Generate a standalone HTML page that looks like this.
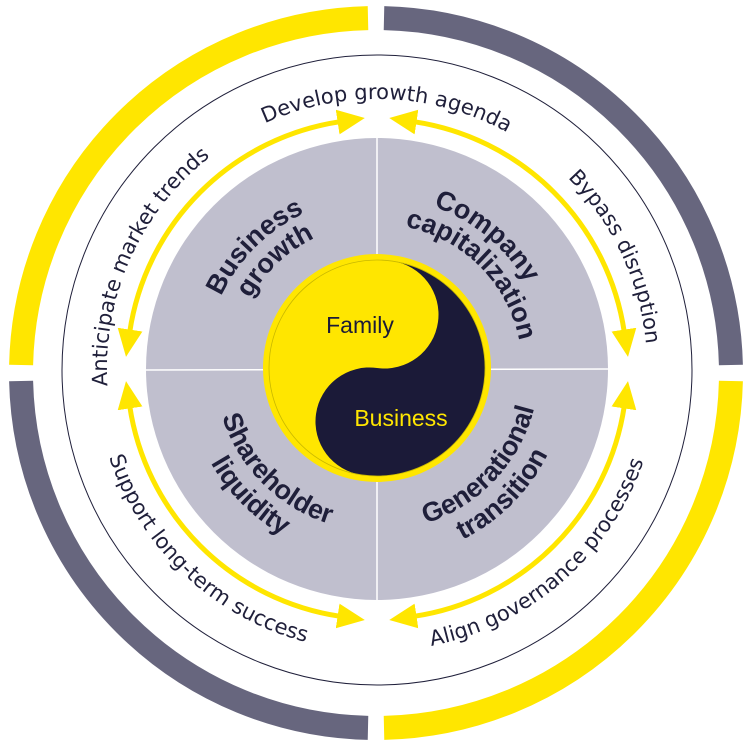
<!DOCTYPE html>
<html><head><meta charset="utf-8"><style>
html,body{margin:0;padding:0;background:#fff;width:750px;height:750px;overflow:hidden}
svg{display:block}
.o{font-family:"DejaVu Sans","Liberation Sans",sans-serif;font-size:21px;fill:#1f1f3a}
.q{font-family:"Liberation Sans",sans-serif;font-weight:bold;font-size:27px;fill:#1f1f3a}
</style></head><body>
<svg width="750" height="750" viewBox="0 0 750 750" xmlns="http://www.w3.org/2000/svg">
<defs>
<marker id="ah" markerUnits="userSpaceOnUse" markerWidth="30" markerHeight="30" refX="2" refY="0" viewBox="0 -12 24 24" orient="auto-start-reverse">
<path d="M0,-10 L22,0 L0,10 z" fill="#ffe600"/>
</marker>
<path id="cwO" d="M377,639 A270,270 0 1 1 377,99 A270,270 0 1 1 377,639"/>
<path id="ccwO" d="M659,369 A282,282 0 1 0 95,369 A282,282 0 1 0 659,369"/>
<path id="cw1" d="M377,541 A172,172 0 1 1 377,197 A172,172 0 1 1 377,541"/>
<path id="cw2" d="M377,514 A145,145 0 1 1 377,224 A145,145 0 1 1 377,514"/>
<path id="ccw1" d="M539,369 A162,162 0 1 0 215,369 A162,162 0 1 0 539,369"/>
<path id="ccw2" d="M568,369 A191,191 0 1 0 186,369 A191,191 0 1 0 568,369"/>
</defs>
<g fill="none" stroke-width="24">
<path d="M21.1,365 A355,355 0 0 1 368,18.1" stroke="#ffe600"/>
<path d="M384,18.1 A355,355 0 0 1 730.9,365" stroke="#67667e"/>
<path d="M730.9,381 A355,355 0 0 1 384,727.9" stroke="#ffe600"/>
<path d="M368,727.9 A355,355 0 0 1 21.1,381" stroke="#67667e"/>
</g>
<circle cx="377" cy="370" r="315" fill="none" stroke="#1f1f3a" stroke-width="1"/>
<circle cx="377" cy="369" r="231" fill="#c0bfce"/>
<line x1="377" y1="136" x2="377" y2="602" stroke="#fff" stroke-width="1.5"/>
<line x1="144" y1="370" x2="610" y2="369" stroke="#fff" stroke-width="1.5"/>
<g fill="none" stroke="#ffe600" stroke-width="5" marker-start="url(#ah)" marker-end="url(#ah)">
<path d="M129.7,332.1 A250,250 0 0 1 340.1,121.7"/>
<path d="M414,121.7 A250,250 0 0 1 624.3,332.1"/>
<path d="M624.3,405.9 A250,250 0 0 1 414,616.3"/>
<path d="M340.1,616.3 A250,250 0 0 1 129.7,405.9"/>
</g>
<circle cx="377" cy="368" r="114" fill="#ffe600"/>
<g transform="translate(377,368) rotate(8)">
<path d="M0,-108 A108,108 0 0 1 0,108 A54,54 0 0 1 0,0 A54,54 0 0 0 0,-108 z" fill="#1b1a38"/>
<circle r="108" fill="none" stroke="#c9b800" stroke-width="0.8"/>
</g>
<text x="360" y="333" font-family="Liberation Sans,sans-serif" font-size="23" fill="#1b1a38" text-anchor="middle">Family</text>
<text x="401" y="426" font-family="Liberation Sans,sans-serif" font-size="23" fill="#ffe600" text-anchor="middle">Business</text>
<text class="o" text-anchor="middle"><textPath href="#cwO" startOffset="31.7%">Anticipate market trends</textPath></text>
<text class="o" text-anchor="middle"><textPath href="#cwO" startOffset="50.6%">Develop growth agenda</textPath></text>
<text class="o" text-anchor="middle"><textPath href="#cwO" startOffset="68%">Bypass disruption</textPath></text>
<text class="o" text-anchor="middle"><textPath href="#ccwO" startOffset="63%">Support long-term success</textPath></text>
<text class="o" text-anchor="middle"><textPath href="#ccwO" startOffset="86.4%">Align governance processes</textPath></text>
<text class="q" text-anchor="middle"><textPath href="#cw1" startOffset="37.5%">Business</textPath></text>
<text class="q" text-anchor="middle"><textPath href="#cw2" startOffset="38%">growth</textPath></text>
<text class="q" text-anchor="middle"><textPath href="#cw1" startOffset="61%">Company</textPath></text>
<text class="q" text-anchor="middle"><textPath href="#cw2" startOffset="62.5%">capitalization</textPath></text>
<text class="q" text-anchor="middle"><textPath href="#ccw1" startOffset="62.5%">Shareholder</textPath></text>
<text class="q" text-anchor="middle"><textPath href="#ccw2" startOffset="62.5%">liquidity</textPath></text>
<text class="q" text-anchor="middle"><textPath href="#ccw1" startOffset="88%">Generational</textPath></text>
<text class="q" text-anchor="middle"><textPath href="#ccw2" startOffset="87.5%">transition</textPath></text>
</svg>
</body></html>
